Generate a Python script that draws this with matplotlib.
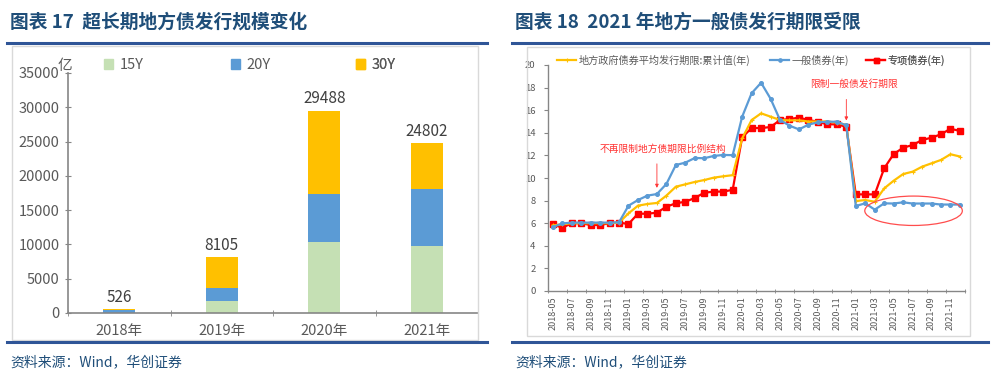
import matplotlib
matplotlib.use("Agg")
import matplotlib.pyplot as plt
from matplotlib.patches import Rectangle, Ellipse, Patch
from matplotlib.lines import Line2D
import numpy as np

plt.rcParams['font.family'] = ['Noto Sans CJK SC', 'DejaVu Sans']

# ---------------- data: left panel ----------------
years = ["2018年", "2019年", "2020年", "2021年"]
y15 = [30, 1800, 10300, 9770]
y20 = [416, 1890, 7050, 8260]
y30 = [80, 4415, 12138, 6772]
totals = [526, 8105, 29488, 24802]
series_names_left = ["15Y", "20Y", "30Y"]

# ---------------- data: right panel ----------------
months = ["2018-05", "2018-06", "2018-07", "2018-08", "2018-09", "2018-10", "2018-11", "2018-12",
          "2019-01", "2019-02", "2019-03", "2019-04", "2019-05", "2019-06", "2019-07", "2019-08",
          "2019-09", "2019-10", "2019-11", "2019-12",
          "2020-01", "2020-02", "2020-03", "2020-04", "2020-05", "2020-06", "2020-07", "2020-08",
          "2020-09", "2020-10", "2020-11", "2020-12",
          "2021-01", "2021-02", "2021-03", "2021-04", "2021-05", "2021-06", "2021-07", "2021-08",
          "2021-09", "2021-10", "2021-11", "2021-12"]
avg_term = [5.8, 5.9, 6.0, 6.0, 6.0, 6.0, 6.0, 6.05,
            6.87, 7.55, 7.7, 7.79, 8.44, 9.23, 9.44, 9.65, 9.82, 10.03, 10.15, 10.25,
            13.5, 15.13, 15.72, 15.43, 15.13, 15.1, 15.1, 15.0, 15.0, 15.0, 14.9, 14.7,
            7.96, 8.05, 7.9, 9.08, 9.76, 10.35, 10.56, 11.0, 11.3, 11.6, 12.1, 11.9]
general = [5.65, 5.98, 6.05, 6.05, 6.05, 6.05, 6.05, 6.08,
           7.55, 8.05, 8.44, 8.58, 9.47, 11.15, 11.36, 11.77, 11.75, 11.95, 12.04, 12.02,
           15.42, 17.5, 18.43, 17.02, 15.13, 14.63, 14.3, 14.72, 14.93, 14.98, 14.98, 14.66,
           7.52, 7.76, 7.2, 7.76, 7.74, 7.85, 7.74, 7.74, 7.74, 7.65, 7.65, 7.65]
special = [5.9, 5.6, 5.99, 6.0, 5.84, 5.84, 6.0, 6.05,
           5.93, 6.84, 6.84, 6.93, 7.46, 7.76, 7.9, 8.23, 8.7, 8.79, 8.8, 8.95,
           13.6, 14.42, 14.42, 14.51, 15.13, 15.22, 15.34, 15.13, 14.98, 14.75, 14.75, 14.54,
           8.55, 8.55, 8.55, 10.86, 12.12, 12.68, 12.92, 13.36, 13.57, 13.87, 14.36, 14.16]
series_names_right = ["地方政府债券平均发行期限:累计值(年)", "一般债券(年)", "专项债券(年)"]
anno1 = "不再限制地方债期限比例结构"
anno2 = "限制一般债发行期限"

title_l = "图表 17  超长期地方债发行规模变化"
title_r = "图表 18  2021 年地方一般债发行期限受限"
source = "资料来源：Wind，华创证券"

W, H = 1000, 378
fig = plt.figure(figsize=(10, 3.78), dpi=100)

def fx(px):
    return px / W

def fy(py):
    return 1 - py / H

navy = "#1F4E79"
rule = "#2F5597"
gray_txt = "#595959"
axis_gray = "#868686"

# titles, rules, boxes, sources
for x0, x1, t in [(7, 487, title_l), (512, 988, title_r)]:
    fig.text(fx(x0 + 3), fy(22), t, fontsize=13.5, fontweight='bold', color=navy,
             va='center', ha='left')
    fig.add_artist(Line2D([fx(x0), fx(x1)], [fy(43), fy(43)], color=rule, lw=2.2))
    fig.add_artist(Line2D([fx(x0), fx(x1)], [fy(342), fy(342)], color=rule, lw=2.2))
    fig.text(fx(x0 + 3), fy(362), source, fontsize=10, color=navy, style='italic',
             va='center', ha='left')

fig.add_artist(Rectangle((fx(12), fy(340)), fx(478 - 12), (340 - 46) / H, fill=False,
                         ec="#D9D9D9", lw=1))
fig.add_artist(Rectangle((fx(527), fy(336)), fx(970 - 527), (336 - 47) / H, fill=False,
                         ec="#D9D9D9", lw=1))

# ---------------- left chart ----------------
axl = fig.add_axes([fx(68), fy(313), fx(478 - 68), (313 - 73) / H])
x = np.arange(len(years))
cols_left = ["#C5E0B4", "#5B9BD5", "#FFC000"]
bw = 0.31
axl.bar(x, y15, bw, color=cols_left[0])
axl.bar(x, y20, bw, bottom=y15, color=cols_left[1])
b2 = [a + b for a, b in zip(y15, y20)]
axl.bar(x, y30, bw, bottom=b2, color=cols_left[2])
for xi, t in zip(x, totals):
    axl.text(xi, t + 500, str(t), ha='center', va='bottom', fontsize=11, color="#404040")
axl.set_xlim(-0.5, 3.5)
axl.set_ylim(0, 35000)
axl.set_yticks(np.arange(0, 35001, 5000))
axl.set_xticks(x)
axl.set_xticklabels(years)
axl.set_xticks([-0.5, 0.5, 1.5, 2.5, 3.5], minor=True)
axl.tick_params(axis='x', which='major', length=0, labelsize=10.5, labelcolor=gray_txt, pad=8)
axl.tick_params(axis='x', which='minor', length=4, direction='inout', color=axis_gray)
axl.tick_params(axis='y', labelsize=10.5, labelcolor=gray_txt, length=4, direction='inout',
                color=axis_gray, pad=4)
for s in ['top', 'right']:
    axl.spines[s].set_visible(False)
for s in ['left', 'bottom']:
    axl.spines[s].set_color(axis_gray)
    axl.spines[s].set_linewidth(1.2)
fig.text(fx(58), fy(66), "亿", fontsize=10.5, color=gray_txt, va='center', ha='left')

for name, col, px in zip(series_names_left, cols_left, [104, 231, 356]):
    lg = axl.legend(handles=[Patch(color=col, label=name)], loc='center left',
                    bbox_to_anchor=(fx(px), fy(65)), bbox_transform=fig.transFigure,
                    frameon=False, fontsize=10.5, handlelength=0.65, handleheight=0.65,
                    handletextpad=0.4, borderpad=0, borderaxespad=0, labelcolor=gray_txt)
    axl.add_artist(lg)

# ---------------- right chart ----------------
axr = fig.add_axes([fx(548), fy(291), fx(964.7 - 548), (291 - 65) / H])
xm = np.arange(len(months))
l1, = axr.plot(xm, avg_term, color="#FFC000", lw=1.6, marker='+', ms=3, mew=0.8,
               label=series_names_right[0], zorder=3)
l2, = axr.plot(xm, general, color="#5B9BD5", lw=1.6, marker='o', ms=2.6,
               label=series_names_right[1], zorder=4)
l3, = axr.plot(xm, special, color="#FF0000", lw=1.6, marker='s', ms=4,
               label=series_names_right[2], zorder=2)
axr.set_xlim(-0.5, len(months) - 0.5)
axr.set_ylim(0, 20)
axr.set_yticks(np.arange(0, 21, 2))
axr.set_xticks(xm[::2])
axr.set_xticklabels(months[::2], rotation=90)
axr.set_xticks(np.arange(-0.5, len(months), 2), minor=True)
axr.tick_params(axis='x', which='major', length=0, labelsize=6.5, labelcolor=gray_txt, pad=4)
axr.tick_params(axis='x', which='minor', length=3, direction='inout', color=axis_gray)
axr.tick_params(axis='y', labelsize=6.8, labelcolor=gray_txt, length=3, direction='out',
                color=axis_gray, pad=6)
for s in ['top', 'right']:
    axr.spines[s].set_visible(False)
for s in ['left', 'bottom']:
    axr.spines[s].set_color(axis_gray)
    axr.spines[s].set_linewidth(1.0)

for h, px in zip([l1, l2, l3], [557, 770, 866]):
    lg = axr.legend(handles=[h], loc='center left', bbox_to_anchor=(fx(px), fy(60)),
                    bbox_transform=fig.transFigure, frameon=False, fontsize=7.3,
                    handlelength=1.9, handletextpad=0.25, borderpad=0, borderaxespad=0,
                    labelcolor=gray_txt, markerscale=0.9)
    axr.add_artist(lg)

red_txt = "#FF3333"
i1 = months.index("2019-04")
axr.text(i1 + 0.6, 12.6, anno1, fontsize=7, color=red_txt, ha='center', va='center')
axr.annotate("", xy=(i1, general[i1] + 0.3), xytext=(i1, 11.5),
             arrowprops=dict(arrowstyle='-|>', color=red_txt, lw=0.6, mutation_scale=5))
i2 = months.index("2020-12")
axr.text(i2 + 0.8, 18.3, anno2, fontsize=7, color=red_txt, ha='center', va='center')
axr.annotate("", xy=(i2, special[i2] + 0.3), xytext=(i2, 17.2),
             arrowprops=dict(arrowstyle='-|>', color=red_txt, lw=0.6, mutation_scale=5))
ic = months.index("2021-07")
axr.add_patch(Ellipse((ic + 0.1, 7.1), 10.3, 2.6, fill=False, ec="#FF4D4D", lw=0.9,
                      zorder=5))

fig.savefig("out.png", dpi=100)
